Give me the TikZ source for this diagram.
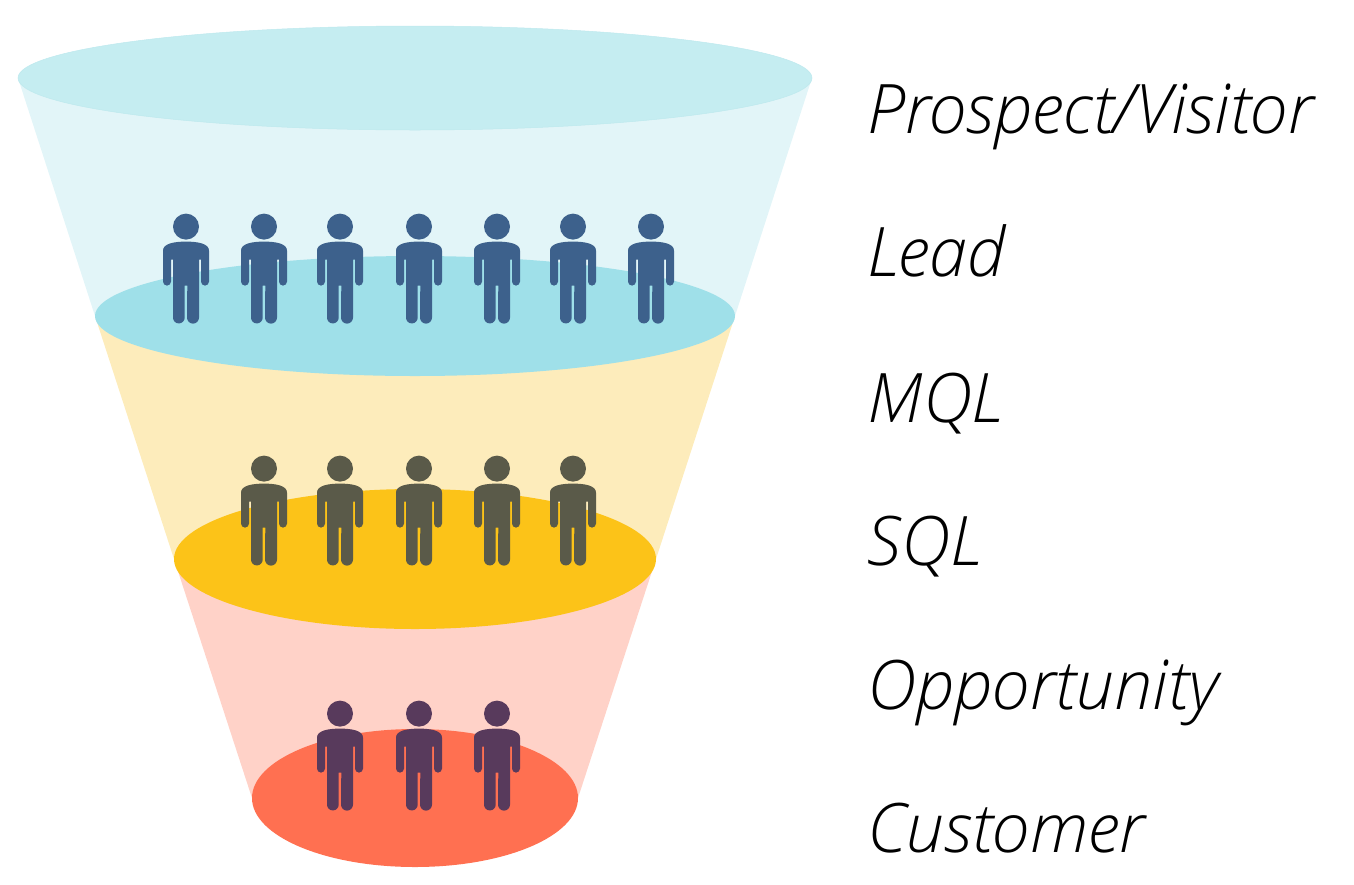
\documentclass[tikz,border=0pt]{standalone}
\usepackage{fontspec}
\newfontfamily\labfont{Open Sans Light}[ItalicFont={Open Sans Light Italic}]
\definecolor{tA}{HTML}{E2F5F8}
\definecolor{eA}{HTML}{C5EDF1}
\definecolor{eAe}{HTML}{BEE9EE}
\definecolor{eB}{HTML}{9FE0E9}
\definecolor{tB}{HTML}{FDECBB}
\definecolor{eC}{HTML}{FCC318}
\definecolor{tC}{HTML}{FFD2C8}
\definecolor{eD}{HTML}{FF7051}
\definecolor{pA}{HTML}{3D618C}
\definecolor{pB}{HTML}{5A5A49}
\definecolor{pC}{HTML}{583A5C}
\tikzset{
  x=1pt,y=-1pt,
  lab/.style={anchor=base west,inner sep=0pt,font=\labfont\itshape\fontsize{68.3}{68.3}\selectfont,text=black},
  person/.pic={
    \fill (0,0) circle[radius=13];
    \fill (-23,24) .. controls (-23,17) and (-12,15) .. (0,15)
      .. controls (12,15) and (23,17) .. (23,24)
      -- (23,55) arc[start angle=0,end angle=180,radius=4] -- (15,33) -- (13,33)
      -- (13,91) arc[start angle=0,end angle=180,radius=6] -- (1.3,59) -- (-1.3,59)
      -- (-1.3,91) arc[start angle=0,end angle=180,radius=5.85] -- (-13,33) -- (-15,33)
      -- (-15,55) arc[start angle=0,end angle=180,radius=4] -- cycle;
  }
}
\begin{document}
\begin{tikzpicture}
\useasboundingbox (0,0) rectangle (1354,884);
\fill[tA] (18,78) -- (812,78) -- (735,316) -- (95,316) -- cycle;
\fill[tB] (95,316) -- (735,316) -- (656,559) -- (174,559) -- cycle;
\fill[tC] (174,559) -- (656,559) -- (578,798) -- (252,798) -- cycle;
\filldraw[fill=eA,draw=eAe,line width=.5pt] (415,78) ellipse[x radius=397,y radius=52];
\fill[eB] (415,316) ellipse[x radius=320,y radius=60];
\fill[eC] (415,559) ellipse[x radius=241,y radius=70];
\fill[eD] (415,798) ellipse[x radius=163,y radius=69];
\foreach \px in {186,264,340,419,497,573,651} \pic[fill=pA] at (\px,226.6) {person};
\foreach \px in {264,340,419,497,573} \pic[fill=pB] at (\px,468.6) {person};
\foreach \px in {340,419,497} \pic[fill=pC] at (\px,713.6) {person};
\node[lab] (l1) at (867.2,133.3) {Prospect/Visitor};
\node[lab] (l2) at (867.2,276.3) {Lead};
\node[lab] (l3) at (867.2,422.3) {MQL};
\node[lab] (l4) at (867.2,565.3) {SQL};
\node[lab] (l5) at (867.2,709.3) {Opportunity};
\node[lab] (l6) at (867.2,852.3) {Customer};
\end{tikzpicture}
\end{document}
